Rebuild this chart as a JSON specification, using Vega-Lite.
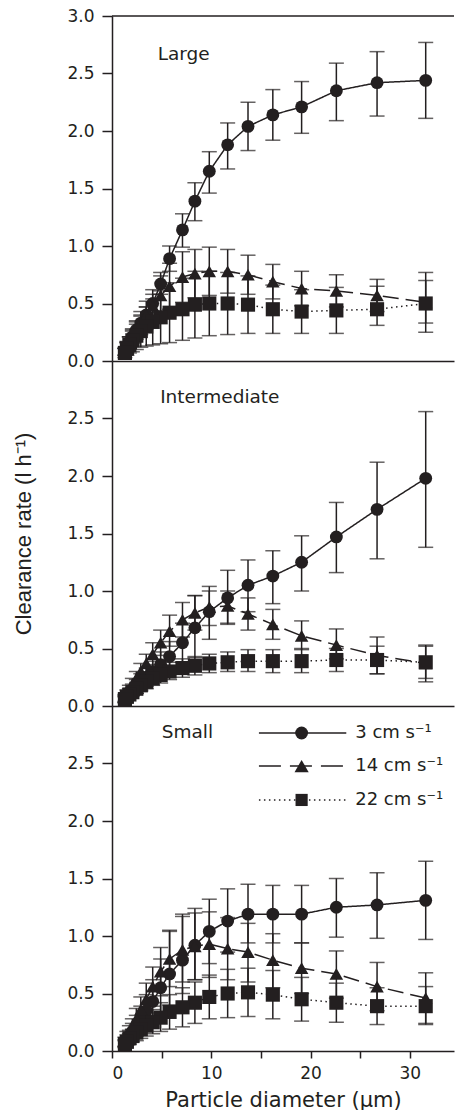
{
 "$schema": "https://vega.github.io/schema/vega-lite/v6.json",
 "padding": {"left": 12, "top": 7, "right": 0, "bottom": 0},
 "background": "white",
 "bounds": "flush",
 "spacing": 0,
 "config": {
  "view": {"stroke": null},
  "font": "DejaVu Sans",
  "axis": {"grid": false, "domainColor": "#231f20", "domainWidth": 1.5, "tickColor": "#231f20", "tickWidth": 1.5, "labelColor": "#231f20", "labelFont": "DejaVu Sans", "labelFontSize": 17, "titleColor": "#231f20", "titleFontWeight": "normal"},
  "axisY": {"tickSize": 10, "labelPadding": 8},
  "axisX": {"tickSize": 7, "labelPadding": 7},
  "text": {"font": "DejaVu Sans", "color": "#231f20", "align": "left", "baseline": "middle"}
 },
 "data": {"values": [
  {"p":"L","s":"3","x":31.6,"y":2.44,"lo":2.11,"hi":2.77},
  {"p":"L","s":"3","x":26.7,"y":2.42,"lo":2.13,"hi":2.69},
  {"p":"L","s":"3","x":22.6,"y":2.35,"lo":2.09,"hi":2.59},
  {"p":"L","s":"3","x":19.1,"y":2.21,"lo":1.98,"hi":2.43},
  {"p":"L","s":"3","x":16.2,"y":2.14,"lo":1.92,"hi":2.36},
  {"p":"L","s":"3","x":13.7,"y":2.04,"lo":1.83,"hi":2.25},
  {"p":"L","s":"3","x":11.65,"y":1.88,"lo":1.67,"hi":2.07},
  {"p":"L","s":"3","x":9.8,"y":1.65,"lo":1.46,"hi":1.82},
  {"p":"L","s":"3","x":8.35,"y":1.39,"lo":1.22,"hi":1.55},
  {"p":"L","s":"3","x":7.1,"y":1.14,"lo":0.99,"hi":1.28},
  {"p":"L","s":"3","x":5.8,"y":0.89,"lo":0.78,"hi":1.0},
  {"p":"L","s":"3","x":4.9,"y":0.67,"lo":0.58,"hi":0.77},
  {"p":"L","s":"3","x":4.1,"y":0.5,"lo":0.42,"hi":0.58},
  {"p":"L","s":"3","x":3.45,"y":0.4,"lo":0.33,"hi":0.47},
  {"p":"L","s":"3","x":2.9,"y":0.33,"lo":0.27,"hi":0.39},
  {"p":"L","s":"3","x":2.45,"y":0.27,"lo":0.21,"hi":0.32},
  {"p":"L","s":"3","x":2.05,"y":0.21,"lo":0.16,"hi":0.26},
  {"p":"L","s":"3","x":1.75,"y":0.16,"lo":0.12,"hi":0.21},
  {"p":"L","s":"3","x":1.5,"y":0.12,"lo":0.08,"hi":0.16},
  {"p":"L","s":"3","x":1.3,"y":0.08,"lo":0.05,"hi":0.11},
  {"p":"L","s":"14","x":31.6,"y":0.51,"lo":0.25,"hi":0.77},
  {"p":"L","s":"14","x":26.7,"y":0.57,"lo":0.43,"hi":0.71},
  {"p":"L","s":"14","x":22.6,"y":0.61,"lo":0.47,"hi":0.75},
  {"p":"L","s":"14","x":19.1,"y":0.63,"lo":0.48,"hi":0.78},
  {"p":"L","s":"14","x":16.2,"y":0.69,"lo":0.54,"hi":0.84},
  {"p":"L","s":"14","x":13.7,"y":0.75,"lo":0.58,"hi":0.92},
  {"p":"L","s":"14","x":11.65,"y":0.78,"lo":0.59,"hi":0.97},
  {"p":"L","s":"14","x":9.8,"y":0.78,"lo":0.57,"hi":0.99},
  {"p":"L","s":"14","x":8.35,"y":0.76,"lo":0.55,"hi":0.97},
  {"p":"L","s":"14","x":7.1,"y":0.73,"lo":0.51,"hi":0.95},
  {"p":"L","s":"14","x":5.8,"y":0.65,"lo":0.45,"hi":0.85},
  {"p":"L","s":"14","x":4.9,"y":0.57,"lo":0.4,"hi":0.74},
  {"p":"L","s":"14","x":4.1,"y":0.48,"lo":0.34,"hi":0.62},
  {"p":"L","s":"14","x":3.45,"y":0.4,"lo":0.28,"hi":0.52},
  {"p":"L","s":"14","x":2.9,"y":0.33,"lo":0.23,"hi":0.43},
  {"p":"L","s":"14","x":2.45,"y":0.27,"lo":0.19,"hi":0.35},
  {"p":"L","s":"14","x":2.05,"y":0.21,"lo":0.15,"hi":0.27},
  {"p":"L","s":"14","x":1.75,"y":0.16,"lo":0.11,"hi":0.21},
  {"p":"L","s":"14","x":1.5,"y":0.12,"lo":0.08,"hi":0.16},
  {"p":"L","s":"14","x":1.3,"y":0.08,"lo":0.05,"hi":0.11},
  {"p":"L","s":"22","x":31.6,"y":0.5,"lo":0.33,"hi":0.7},
  {"p":"L","s":"22","x":26.7,"y":0.45,"lo":0.31,"hi":0.65},
  {"p":"L","s":"22","x":22.6,"y":0.44,"lo":0.24,"hi":0.64},
  {"p":"L","s":"22","x":19.1,"y":0.43,"lo":0.24,"hi":0.62},
  {"p":"L","s":"22","x":16.2,"y":0.45,"lo":0.24,"hi":0.66},
  {"p":"L","s":"22","x":13.7,"y":0.49,"lo":0.24,"hi":0.74},
  {"p":"L","s":"22","x":11.65,"y":0.5,"lo":0.23,"hi":0.77},
  {"p":"L","s":"22","x":9.8,"y":0.5,"lo":0.22,"hi":0.78},
  {"p":"L","s":"22","x":8.35,"y":0.49,"lo":0.2,"hi":0.78},
  {"p":"L","s":"22","x":7.1,"y":0.45,"lo":0.18,"hi":0.72},
  {"p":"L","s":"22","x":5.8,"y":0.42,"lo":0.16,"hi":0.68},
  {"p":"L","s":"22","x":4.9,"y":0.38,"lo":0.15,"hi":0.61},
  {"p":"L","s":"22","x":4.1,"y":0.34,"lo":0.14,"hi":0.54},
  {"p":"L","s":"22","x":3.45,"y":0.3,"lo":0.13,"hi":0.47},
  {"p":"L","s":"22","x":2.9,"y":0.26,"lo":0.12,"hi":0.4},
  {"p":"L","s":"22","x":2.45,"y":0.22,"lo":0.1,"hi":0.34},
  {"p":"L","s":"22","x":2.05,"y":0.18,"lo":0.08,"hi":0.28},
  {"p":"L","s":"22","x":1.75,"y":0.14,"lo":0.07,"hi":0.21},
  {"p":"L","s":"22","x":1.5,"y":0.11,"lo":0.05,"hi":0.17},
  {"p":"L","s":"22","x":1.3,"y":0.07,"lo":0.03,"hi":0.11},
  {"p":"I","s":"3","x":31.6,"y":1.98,"lo":1.38,"hi":2.56},
  {"p":"I","s":"3","x":26.7,"y":1.71,"lo":1.28,"hi":2.12},
  {"p":"I","s":"3","x":22.6,"y":1.47,"lo":1.16,"hi":1.77},
  {"p":"I","s":"3","x":19.1,"y":1.25,"lo":1.0,"hi":1.48},
  {"p":"I","s":"3","x":16.2,"y":1.13,"lo":0.89,"hi":1.35},
  {"p":"I","s":"3","x":13.7,"y":1.05,"lo":0.82,"hi":1.27},
  {"p":"I","s":"3","x":11.65,"y":0.94,"lo":0.71,"hi":1.18},
  {"p":"I","s":"3","x":9.8,"y":0.82,"lo":0.58,"hi":1.04},
  {"p":"I","s":"3","x":8.35,"y":0.68,"lo":0.42,"hi":0.96},
  {"p":"I","s":"3","x":7.1,"y":0.55,"lo":0.38,"hi":0.72},
  {"p":"I","s":"3","x":5.8,"y":0.43,"lo":0.3,"hi":0.56},
  {"p":"I","s":"3","x":4.9,"y":0.36,"lo":0.25,"hi":0.47},
  {"p":"I","s":"3","x":4.1,"y":0.3,"lo":0.21,"hi":0.39},
  {"p":"I","s":"3","x":3.45,"y":0.25,"lo":0.17,"hi":0.33},
  {"p":"I","s":"3","x":2.9,"y":0.21,"lo":0.14,"hi":0.28},
  {"p":"I","s":"3","x":2.45,"y":0.17,"lo":0.11,"hi":0.23},
  {"p":"I","s":"3","x":2.05,"y":0.14,"lo":0.09,"hi":0.19},
  {"p":"I","s":"3","x":1.75,"y":0.11,"lo":0.07,"hi":0.15},
  {"p":"I","s":"3","x":1.5,"y":0.08,"lo":0.05,"hi":0.11},
  {"p":"I","s":"3","x":1.3,"y":0.06,"lo":0.03,"hi":0.09},
  {"p":"I","s":"14","x":31.6,"y":0.37,"lo":0.21,"hi":0.53},
  {"p":"I","s":"14","x":26.7,"y":0.44,"lo":0.28,"hi":0.6},
  {"p":"I","s":"14","x":22.6,"y":0.53,"lo":0.41,"hi":0.67},
  {"p":"I","s":"14","x":19.1,"y":0.61,"lo":0.49,"hi":0.74},
  {"p":"I","s":"14","x":16.2,"y":0.71,"lo":0.58,"hi":0.84},
  {"p":"I","s":"14","x":13.7,"y":0.8,"lo":0.66,"hi":0.94},
  {"p":"I","s":"14","x":11.65,"y":0.87,"lo":0.72,"hi":1.0},
  {"p":"I","s":"14","x":9.8,"y":0.86,"lo":0.7,"hi":1.0},
  {"p":"I","s":"14","x":8.35,"y":0.81,"lo":0.66,"hi":0.96},
  {"p":"I","s":"14","x":7.1,"y":0.75,"lo":0.6,"hi":0.9},
  {"p":"I","s":"14","x":5.8,"y":0.65,"lo":0.52,"hi":0.79},
  {"p":"I","s":"14","x":4.9,"y":0.55,"lo":0.44,"hi":0.66},
  {"p":"I","s":"14","x":4.1,"y":0.45,"lo":0.36,"hi":0.55},
  {"p":"I","s":"14","x":3.45,"y":0.37,"lo":0.29,"hi":0.45},
  {"p":"I","s":"14","x":2.9,"y":0.3,"lo":0.23,"hi":0.37},
  {"p":"I","s":"14","x":2.45,"y":0.24,"lo":0.18,"hi":0.3},
  {"p":"I","s":"14","x":2.05,"y":0.19,"lo":0.14,"hi":0.24},
  {"p":"I","s":"14","x":1.75,"y":0.14,"lo":0.1,"hi":0.18},
  {"p":"I","s":"14","x":1.5,"y":0.1,"lo":0.07,"hi":0.14},
  {"p":"I","s":"14","x":1.3,"y":0.07,"lo":0.04,"hi":0.1},
  {"p":"I","s":"22","x":31.6,"y":0.38,"lo":0.24,"hi":0.52},
  {"p":"I","s":"22","x":26.7,"y":0.4,"lo":0.28,"hi":0.52},
  {"p":"I","s":"22","x":22.6,"y":0.4,"lo":0.3,"hi":0.5},
  {"p":"I","s":"22","x":19.1,"y":0.39,"lo":0.29,"hi":0.5},
  {"p":"I","s":"22","x":16.2,"y":0.39,"lo":0.29,"hi":0.49},
  {"p":"I","s":"22","x":13.7,"y":0.39,"lo":0.3,"hi":0.49},
  {"p":"I","s":"22","x":11.65,"y":0.38,"lo":0.3,"hi":0.47},
  {"p":"I","s":"22","x":9.8,"y":0.37,"lo":0.29,"hi":0.45},
  {"p":"I","s":"22","x":8.35,"y":0.35,"lo":0.27,"hi":0.43},
  {"p":"I","s":"22","x":7.1,"y":0.33,"lo":0.25,"hi":0.41},
  {"p":"I","s":"22","x":5.8,"y":0.3,"lo":0.23,"hi":0.38},
  {"p":"I","s":"22","x":4.9,"y":0.27,"lo":0.2,"hi":0.34},
  {"p":"I","s":"22","x":4.1,"y":0.24,"lo":0.18,"hi":0.3},
  {"p":"I","s":"22","x":3.45,"y":0.21,"lo":0.15,"hi":0.27},
  {"p":"I","s":"22","x":2.9,"y":0.18,"lo":0.13,"hi":0.23},
  {"p":"I","s":"22","x":2.45,"y":0.15,"lo":0.11,"hi":0.19},
  {"p":"I","s":"22","x":2.05,"y":0.12,"lo":0.09,"hi":0.16},
  {"p":"I","s":"22","x":1.75,"y":0.1,"lo":0.07,"hi":0.13},
  {"p":"I","s":"22","x":1.5,"y":0.08,"lo":0.05,"hi":0.11},
  {"p":"I","s":"22","x":1.3,"y":0.06,"lo":0.03,"hi":0.08},
  {"p":"S","s":"3","x":31.6,"y":1.31,"lo":0.97,"hi":1.65},
  {"p":"S","s":"3","x":26.7,"y":1.27,"lo":0.98,"hi":1.55},
  {"p":"S","s":"3","x":22.6,"y":1.25,"lo":0.99,"hi":1.5},
  {"p":"S","s":"3","x":19.1,"y":1.19,"lo":0.94,"hi":1.44},
  {"p":"S","s":"3","x":16.2,"y":1.19,"lo":0.94,"hi":1.44},
  {"p":"S","s":"3","x":13.7,"y":1.19,"lo":0.94,"hi":1.45},
  {"p":"S","s":"3","x":11.65,"y":1.13,"lo":0.86,"hi":1.41},
  {"p":"S","s":"3","x":9.8,"y":1.04,"lo":0.76,"hi":1.32},
  {"p":"S","s":"3","x":8.35,"y":0.92,"lo":0.62,"hi":1.24},
  {"p":"S","s":"3","x":7.1,"y":0.79,"lo":0.5,"hi":1.19},
  {"p":"S","s":"3","x":5.8,"y":0.67,"lo":0.4,"hi":1.04},
  {"p":"S","s":"3","x":4.9,"y":0.55,"lo":0.33,"hi":0.8},
  {"p":"S","s":"3","x":4.1,"y":0.43,"lo":0.26,"hi":0.62},
  {"p":"S","s":"3","x":3.45,"y":0.35,"lo":0.21,"hi":0.49},
  {"p":"S","s":"3","x":2.9,"y":0.28,"lo":0.17,"hi":0.39},
  {"p":"S","s":"3","x":2.45,"y":0.22,"lo":0.13,"hi":0.31},
  {"p":"S","s":"3","x":2.05,"y":0.17,"lo":0.1,"hi":0.24},
  {"p":"S","s":"3","x":1.75,"y":0.13,"lo":0.08,"hi":0.18},
  {"p":"S","s":"3","x":1.5,"y":0.1,"lo":0.06,"hi":0.14},
  {"p":"S","s":"3","x":1.3,"y":0.07,"lo":0.04,"hi":0.1},
  {"p":"S","s":"14","x":31.6,"y":0.46,"lo":0.24,"hi":0.68},
  {"p":"S","s":"14","x":26.7,"y":0.56,"lo":0.35,"hi":0.77},
  {"p":"S","s":"14","x":22.6,"y":0.67,"lo":0.46,"hi":0.87},
  {"p":"S","s":"14","x":19.1,"y":0.72,"lo":0.5,"hi":0.94},
  {"p":"S","s":"14","x":16.2,"y":0.79,"lo":0.55,"hi":1.02},
  {"p":"S","s":"14","x":13.7,"y":0.86,"lo":0.6,"hi":1.11},
  {"p":"S","s":"14","x":11.65,"y":0.89,"lo":0.62,"hi":1.16},
  {"p":"S","s":"14","x":9.8,"y":0.93,"lo":0.64,"hi":1.21},
  {"p":"S","s":"14","x":8.35,"y":0.91,"lo":0.62,"hi":1.2},
  {"p":"S","s":"14","x":7.1,"y":0.88,"lo":0.6,"hi":1.17},
  {"p":"S","s":"14","x":5.8,"y":0.8,"lo":0.56,"hi":1.05},
  {"p":"S","s":"14","x":4.9,"y":0.69,"lo":0.48,"hi":0.9},
  {"p":"S","s":"14","x":4.1,"y":0.56,"lo":0.39,"hi":0.73},
  {"p":"S","s":"14","x":3.45,"y":0.45,"lo":0.31,"hi":0.59},
  {"p":"S","s":"14","x":2.9,"y":0.36,"lo":0.25,"hi":0.47},
  {"p":"S","s":"14","x":2.45,"y":0.28,"lo":0.19,"hi":0.37},
  {"p":"S","s":"14","x":2.05,"y":0.21,"lo":0.14,"hi":0.28},
  {"p":"S","s":"14","x":1.75,"y":0.16,"lo":0.1,"hi":0.22},
  {"p":"S","s":"14","x":1.5,"y":0.12,"lo":0.07,"hi":0.17},
  {"p":"S","s":"14","x":1.3,"y":0.08,"lo":0.04,"hi":0.12},
  {"p":"S","s":"22","x":31.6,"y":0.39,"lo":0.23,"hi":0.56},
  {"p":"S","s":"22","x":26.7,"y":0.39,"lo":0.23,"hi":0.55},
  {"p":"S","s":"22","x":22.6,"y":0.42,"lo":0.25,"hi":0.59},
  {"p":"S","s":"22","x":19.1,"y":0.45,"lo":0.26,"hi":0.64},
  {"p":"S","s":"22","x":16.2,"y":0.49,"lo":0.28,"hi":0.7},
  {"p":"S","s":"22","x":13.7,"y":0.51,"lo":0.3,"hi":0.72},
  {"p":"S","s":"22","x":11.65,"y":0.5,"lo":0.29,"hi":0.71},
  {"p":"S","s":"22","x":9.8,"y":0.47,"lo":0.28,"hi":0.66},
  {"p":"S","s":"22","x":8.35,"y":0.42,"lo":0.24,"hi":0.6},
  {"p":"S","s":"22","x":7.1,"y":0.38,"lo":0.21,"hi":0.55},
  {"p":"S","s":"22","x":5.8,"y":0.34,"lo":0.19,"hi":0.49},
  {"p":"S","s":"22","x":4.9,"y":0.29,"lo":0.17,"hi":0.42},
  {"p":"S","s":"22","x":4.1,"y":0.25,"lo":0.15,"hi":0.36},
  {"p":"S","s":"22","x":3.45,"y":0.22,"lo":0.13,"hi":0.31},
  {"p":"S","s":"22","x":2.9,"y":0.19,"lo":0.11,"hi":0.27},
  {"p":"S","s":"22","x":2.45,"y":0.16,"lo":0.09,"hi":0.23},
  {"p":"S","s":"22","x":2.05,"y":0.13,"lo":0.08,"hi":0.19},
  {"p":"S","s":"22","x":1.75,"y":0.11,"lo":0.06,"hi":0.15},
  {"p":"S","s":"22","x":1.5,"y":0.08,"lo":0.05,"hi":0.12},
  {"p":"S","s":"22","x":1.3,"y":0.06,"lo":0.03,"hi":0.09}
 ]},
 "vconcat": [
  {
   "width": 342, "height": 345,
   "transform": [{"filter": "datum.p == 'L'"}],
   "layer": [
    {"mark": {"type": "errorbar", "ticks": {"size": 15, "thickness": 1.5, "color": "#231f20"}, "rule": {"strokeWidth": 1.5, "color": "#231f20"}},
     "encoding": {
      "x": {"field": "x", "type": "quantitative", "scale": {"domain": [0, 34.45], "nice": false}, "axis": {"title": null, "labels": false, "ticks": false}},
      "y": {"field": "lo", "type": "quantitative", "scale": {"domain": [0, 3], "nice": false}, "axis": {"title": null, "values": [0, 0.5, 1, 1.5, 2, 2.5, 3], "format": ".1f"}},
      "y2": {"field": "hi"}}},
    {"mark": {"type": "line", "color": "#231f20", "strokeWidth": 1.5},
     "encoding": {
      "x": {"field": "x", "type": "quantitative", "scale": {"domain": [0, 34.45], "nice": false}, "axis": {"title": null, "labels": false, "ticks": false}},
      "y": {"field": "y", "type": "quantitative", "scale": {"domain": [0, 3], "nice": false}, "axis": {"title": null, "values": [0, 0.5, 1, 1.5, 2, 2.5, 3], "format": ".1f"}},
      "detail": {"field": "s"},
      "strokeDash": {"field": "s", "type": "nominal", "scale": {"domain": ["3", "14", "22"], "range": [[1, 0], [16, 7], [1.5, 3.5]]}, "legend": null}}},
    {"mark": {"type": "point", "filled": true, "opacity": 1, "color": "#231f20", "strokeWidth": 0},
     "encoding": {
      "x": {"field": "x", "type": "quantitative", "scale": {"domain": [0, 34.45], "nice": false}, "axis": {"title": null, "labels": false, "ticks": false}},
      "y": {"field": "y", "type": "quantitative", "scale": {"domain": [0, 3], "nice": false}, "axis": {"title": null, "values": [0, 0.5, 1, 1.5, 2, 2.5, 3], "format": ".1f"}},
      "shape": {"field": "s", "type": "nominal", "scale": {"domain": ["3", "14", "22"], "range": ["circle", "triangle-up", "square"]}, "legend": null},
      "size": {"field": "s", "type": "nominal", "scale": {"domain": ["3", "14", "22"], "range": [165, 200, 148]}, "legend": null}}},
    {"transform": [{"filter": "datum.x == 31.6 && datum.s == '3'"}],
     "mark": {"type": "rule", "color": "#231f20", "strokeWidth": 1.5},
     "encoding": {"y": {"datum": 3}}},
    {"transform": [{"filter": "datum.x == 31.6 && datum.s == '3'"}],
     "mark": {"type": "text", "fontSize": 18.5},
     "encoding": {"x": {"datum": 4.6}, "y": {"datum": 2.67}, "text": {"value": "Large"}}}
   ]
  },
  {
   "width": 342, "height": 345,
   "transform": [{"filter": "datum.p == 'I'"}],
   "layer": [
    {"mark": {"type": "errorbar", "ticks": {"size": 15, "thickness": 1.5, "color": "#231f20"}, "rule": {"strokeWidth": 1.5, "color": "#231f20"}},
     "encoding": {
      "x": {"field": "x", "type": "quantitative", "scale": {"domain": [0, 34.45], "nice": false}, "axis": {"title": null, "labels": false, "ticks": false}},
      "y": {"field": "lo", "type": "quantitative", "scale": {"domain": [0, 3], "nice": false}, "axis": {"title": "Clearance rate (l h⁻¹)", "titleFont": "Liberation Sans", "titleFontSize": 22, "titlePadding": 31, "values": [0, 0.5, 1, 1.5, 2, 2.5], "format": ".1f"}},
      "y2": {"field": "hi"}}},
    {"mark": {"type": "line", "color": "#231f20", "strokeWidth": 1.5},
     "encoding": {
      "x": {"field": "x", "type": "quantitative", "scale": {"domain": [0, 34.45], "nice": false}, "axis": {"title": null, "labels": false, "ticks": false}},
      "y": {"field": "y", "type": "quantitative", "scale": {"domain": [0, 3], "nice": false}, "axis": {"title": "Clearance rate (l h⁻¹)", "titleFont": "Liberation Sans", "titleFontSize": 22, "titlePadding": 31, "values": [0, 0.5, 1, 1.5, 2, 2.5], "format": ".1f"}},
      "detail": {"field": "s"},
      "strokeDash": {"field": "s", "type": "nominal", "scale": {"domain": ["3", "14", "22"], "range": [[1, 0], [16, 7], [1.5, 3.5]]}, "legend": null}}},
    {"mark": {"type": "point", "filled": true, "opacity": 1, "color": "#231f20", "strokeWidth": 0},
     "encoding": {
      "x": {"field": "x", "type": "quantitative", "scale": {"domain": [0, 34.45], "nice": false}, "axis": {"title": null, "labels": false, "ticks": false}},
      "y": {"field": "y", "type": "quantitative", "scale": {"domain": [0, 3], "nice": false}, "axis": {"title": "Clearance rate (l h⁻¹)", "titleFont": "Liberation Sans", "titleFontSize": 22, "titlePadding": 31, "values": [0, 0.5, 1, 1.5, 2, 2.5], "format": ".1f"}},
      "shape": {"field": "s", "type": "nominal", "scale": {"domain": ["3", "14", "22"], "range": ["circle", "triangle-up", "square"]}, "legend": null},
      "size": {"field": "s", "type": "nominal", "scale": {"domain": ["3", "14", "22"], "range": [165, 200, 148]}, "legend": null}}},
    {"transform": [{"filter": "datum.x == 31.6 && datum.s == '3'"}],
     "mark": {"type": "text", "fontSize": 18.5},
     "encoding": {"x": {"datum": 4.85}, "y": {"datum": 2.69}, "text": {"value": "Intermediate"}}}
   ]
  },
  {
   "width": 342, "height": 345,
   "transform": [{"filter": "datum.p == 'S'"}],
   "layer": [
    {"mark": {"type": "errorbar", "ticks": {"size": 15, "thickness": 1.5, "color": "#231f20"}, "rule": {"strokeWidth": 1.5, "color": "#231f20"}},
     "encoding": {
      "x": {"field": "x", "type": "quantitative", "scale": {"domain": [0, 34.45], "nice": false}, "axis": {"title": "Particle diameter (µm)", "titleFontSize": 21, "titlePadding": 8, "values": [0, 5, 10, 15, 20, 25, 30], "labelExpr": "datum.value % 10 == 0 ? datum.label : ''"}},
      "y": {"field": "lo", "type": "quantitative", "scale": {"domain": [0, 3], "nice": false}, "axis": {"title": null, "values": [0, 0.5, 1, 1.5, 2, 2.5], "format": ".1f"}},
      "y2": {"field": "hi"}}},
    {"mark": {"type": "line", "color": "#231f20", "strokeWidth": 1.5},
     "encoding": {
      "x": {"field": "x", "type": "quantitative", "scale": {"domain": [0, 34.45], "nice": false}, "axis": {"title": "Particle diameter (µm)", "titleFontSize": 21, "titlePadding": 8, "values": [0, 5, 10, 15, 20, 25, 30], "labelExpr": "datum.value % 10 == 0 ? datum.label : ''"}},
      "y": {"field": "y", "type": "quantitative", "scale": {"domain": [0, 3], "nice": false}, "axis": {"title": null, "values": [0, 0.5, 1, 1.5, 2, 2.5], "format": ".1f"}},
      "detail": {"field": "s"},
      "strokeDash": {"field": "s", "type": "nominal", "scale": {"domain": ["3", "14", "22"], "range": [[1, 0], [16, 7], [1.5, 3.5]]}, "legend": null}}},
    {"mark": {"type": "point", "filled": true, "opacity": 1, "color": "#231f20", "strokeWidth": 0},
     "encoding": {
      "x": {"field": "x", "type": "quantitative", "scale": {"domain": [0, 34.45], "nice": false}, "axis": {"title": "Particle diameter (µm)", "titleFontSize": 21, "titlePadding": 8, "values": [0, 5, 10, 15, 20, 25, 30], "labelExpr": "datum.value % 10 == 0 ? datum.label : ''"}},
      "y": {"field": "y", "type": "quantitative", "scale": {"domain": [0, 3], "nice": false}, "axis": {"title": null, "values": [0, 0.5, 1, 1.5, 2, 2.5], "format": ".1f"}},
      "shape": {"field": "s", "type": "nominal", "scale": {"domain": ["3", "14", "22"], "range": ["circle", "triangle-up", "square"]}, "legend": null},
      "size": {"field": "s", "type": "nominal", "scale": {"domain": ["3", "14", "22"], "range": [165, 200, 148]}, "legend": null}}},
    {"transform": [{"filter": "datum.x == 31.6 && datum.s == '3'"}],
     "mark": {"type": "text", "fontSize": 18.5},
     "encoding": {"x": {"datum": 5.0}, "y": {"datum": 2.77}, "text": {"value": "Small"}}},
    {"transform": [{"filter": "datum.x == 31.6 && datum.s == '3'"}],
     "mark": {"type": "rule", "color": "#231f20", "strokeWidth": 1.5},
     "encoding": {"x": {"datum": 14.8}, "x2": {"datum": 23.6}, "y": {"datum": 2.765}}},
    {"transform": [{"filter": "datum.x == 31.6 && datum.s == '3'"}],
     "mark": {"type": "rule", "color": "#231f20", "strokeWidth": 1.5, "strokeDash": [22, 9]},
     "encoding": {"x": {"datum": 14.8}, "x2": {"datum": 23.6}, "y": {"datum": 2.478}}},
    {"transform": [{"filter": "datum.x == 31.6 && datum.s == '3'"}],
     "mark": {"type": "rule", "color": "#231f20", "strokeWidth": 1.5, "strokeDash": [1.5, 3.5]},
     "encoding": {"x": {"datum": 14.8}, "x2": {"datum": 23.6}, "y": {"datum": 2.183}}},
    {"transform": [{"filter": "datum.x == 31.6 && datum.s == '3'"}],
     "mark": {"type": "point", "filled": true, "opacity": 1, "color": "#231f20", "strokeWidth": 0, "shape": "circle", "size": 165},
     "encoding": {"x": {"datum": 19.1}, "y": {"datum": 2.765}}},
    {"transform": [{"filter": "datum.x == 31.6 && datum.s == '3'"}],
     "mark": {"type": "point", "filled": true, "opacity": 1, "color": "#231f20", "strokeWidth": 0, "shape": "triangle-up", "size": 200},
     "encoding": {"x": {"datum": 19.1}, "y": {"datum": 2.478}}},
    {"transform": [{"filter": "datum.x == 31.6 && datum.s == '3'"}],
     "mark": {"type": "point", "filled": true, "opacity": 1, "color": "#231f20", "strokeWidth": 0, "shape": "square", "size": 148},
     "encoding": {"x": {"datum": 19.1}, "y": {"datum": 2.183}}},
    {"transform": [{"filter": "datum.x == 31.6 && datum.s == '3'"}],
     "mark": {"type": "text", "fontSize": 18},
     "encoding": {"x": {"datum": 24.5}, "y": {"datum": 2.765}, "text": {"value": "3 cm s⁻¹"}}},
    {"transform": [{"filter": "datum.x == 31.6 && datum.s == '3'"}],
     "mark": {"type": "text", "fontSize": 18},
     "encoding": {"x": {"datum": 24.5}, "y": {"datum": 2.478}, "text": {"value": "14 cm s⁻¹"}}},
    {"transform": [{"filter": "datum.x == 31.6 && datum.s == '3'"}],
     "mark": {"type": "text", "fontSize": 18},
     "encoding": {"x": {"datum": 24.5}, "y": {"datum": 2.183}, "text": {"value": "22 cm s⁻¹"}}}
   ]
  }
 ]
}
